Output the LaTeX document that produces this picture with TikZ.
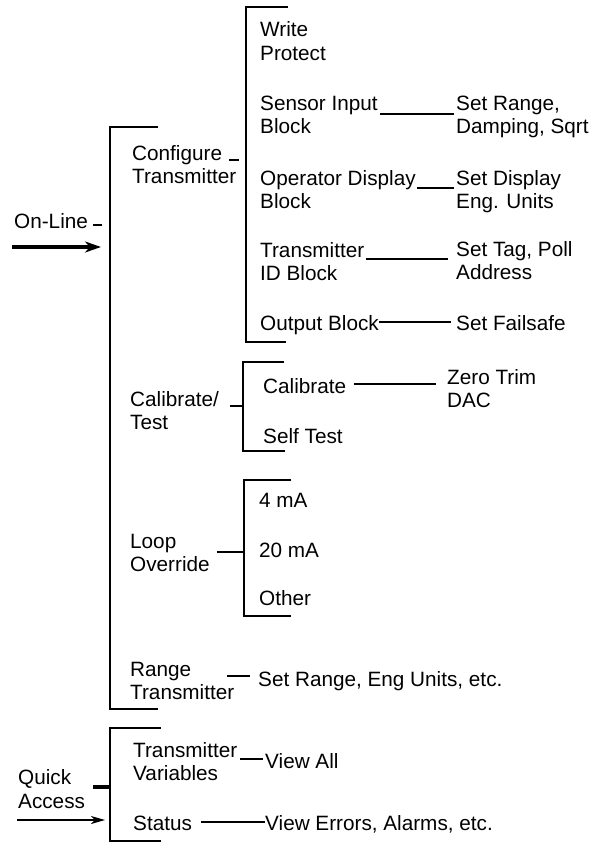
\documentclass[tikz,border=0pt]{standalone}
\usepackage{fontspec}
\setmainfont{Liberation Sans}
\usetikzlibrary{arrows.meta,calc}

\begin{document}
% labels are placed by the baseline of their last line
\begin{tikzpicture}[x=1bp,y=-1bp,
  lbl/.style={anchor=base west, inner sep=0pt, align=left,
              font=\fontsize{20.8}{23.5}\selectfont},
  brk/.style={line width=2bp},
  conn/.style={line width=1.6bp},
  bigarrow/.style={line width=4.5bp, -{Stealth[length=16bp,width=11bp,inset=5bp]}},
  thinarrow/.style={line width=1.6bp, -{Stealth[length=14bp,width=8bp,inset=4bp]}},
]
\useasboundingbox (0,0) rectangle (595,842);

% ---- menu labels ----
\node[lbl] (online) at (14,228)  {On-Line};
\node[lbl] (conf)   at (132,183.5) {Configure\\Transmitter};
\node[lbl] (wp)     at (260,60)  {Write\\Protect};
\node[lbl] (sib)    at (260,133.5) {Sensor Input\\Block};
\node[lbl] (sr)     at (456,133.5) {Set Range,\\Damping, Sqrt};
\node[lbl] (odb)    at (260,208.5) {Operator Display\\Block};
\node[lbl] (sd)     at (456,208.5) {Set Display\\Eng. Units};
\node[lbl] (tid)    at (260,280.5) {Transmitter\\ID Block};
\node[lbl] (stp)    at (456,279.5) {Set Tag, Poll\\Address};
\node[lbl] (ob)     at (260,330) {Output Block};
\node[lbl] (sf)     at (456,330) {Set Failsafe};
\node[lbl] (ct)     at (130,429.5) {Calibrate/\\Test};
\node[lbl] (cal)    at (263,393) {Calibrate};
\node[lbl] (zt)     at (447,407.5) {Zero Trim\\DAC};
\node[lbl] (st)     at (263,443) {Self Test};
\node[lbl] (lo)     at (130,571.5) {Loop\\Override};
\node[lbl] (m4)     at (259,507) {4 mA};
\node[lbl] (m20)    at (259,557) {20 mA};
\node[lbl] (oth)    at (259,605) {Other};
\node[lbl] (rt)     at (130,699.5) {Range\\Transmitter};
\node[lbl] (sreu)   at (258,686) {Set Range, Eng Units, etc.};
\node[lbl] (tv)     at (133,780.5) {Transmitter\\Variables};
\node[lbl] (va)     at (265,768) {View All};
\node[lbl] (qa)     at (18,808)  {Quick\\Access};
\node[lbl] (stat)   at (133,830) {Status};
\node[lbl] (ve)     at (265,830) {View Errors, Alarms, etc.};

% ---- bracket spines ----
\coordinate (mainTop) at (158,127);   \coordinate (mainBot) at (110,709);
\coordinate (cfgTop)  at (288,7);     \coordinate (cfgBot)  at (246,342);
\coordinate (calTop)  at (284,362);   \coordinate (calBot)  at (243,451);
\coordinate (loopTop) at (291,480);   \coordinate (loopBot) at (244,616);
\coordinate (qaTop)   at (161,728);   \coordinate (qaBot)   at (110,841);

\draw[brk] (mainTop) -| (mainBot) -- ++(48,0);
\draw[brk] (cfgTop)  -| (cfgBot)  -- ++(40,0);
\draw[brk] (calTop)  -| (calBot)  -- ++(42,0);
\draw[brk] (loopTop) -| (loopBot) -- ++(47,0);
\draw[brk] (qaTop)   -| (qaBot)   -- ++(51,0);

% ---- entry arrows ----
\coordinate (onTail) at (12,247);  \coordinate (onTip) at (101,247);
\coordinate (qaTail) at (17,820);  \coordinate (qaTip) at (105,820);
\draw[bigarrow]  (onTail) -- (onTip);
\draw[thinarrow] (qaTail) -- (qaTip);

% ---- ticks towards the brackets ----
\draw[conn] ($(online.base east)+(5,-3)$) -- ++(9,0);
\draw[conn] ($(conf.east |- 0,160)+(-7,0)$) -- ++(10,0);
\draw[conn] ($(ct.east |- 0,406)+(11,0)$) -- (calBot |- 0,406);
\draw[conn] ($(lo.east |- 0,552)+(7,0)$) -- (loopBot |- 0,552);
\draw[line width=3.5bp] ($(qa.east |- 0,787)+(8,0)$) -- (qaBot |- 0,787);

% ---- links to sub-items ----
\draw[conn] ($(sib.east |- 0,114)+(2,0)$) -- ($(sr.west |- 0,114)+(-2,0)$);
\draw[conn] ($(odb.east |- 0,188)+(1,0)$) -- ($(sd.west |- 0,188)+(-2,0)$);
\draw[conn] ($(tid.east |- 0,259)+(2,0)$) -- ($(stp.west |- 0,259)+(-8,0)$);
\draw[conn] (ob.east |- 0,322) -- ($(sf.west |- 0,322)+(-5,0)$);
\draw[conn] ($(cal.east |- 0,384)+(8,0)$) -- ($(zt.west |- 0,384)+(-11,0)$);
\draw[conn] ($(rt.east |- 0,676)+(-7,0)$) -- ($(sreu.west |- 0,676)+(-8,0)$);
\draw[conn] ($(tv.east |- 0,759)+(3,0)$) -- ($(va.west |- 0,759)+(-2,0)$);
\draw[conn] ($(stat.east |- 0,822)+(9,0)$) -- (ve.west |- 0,822);
\end{tikzpicture}
\end{document}
